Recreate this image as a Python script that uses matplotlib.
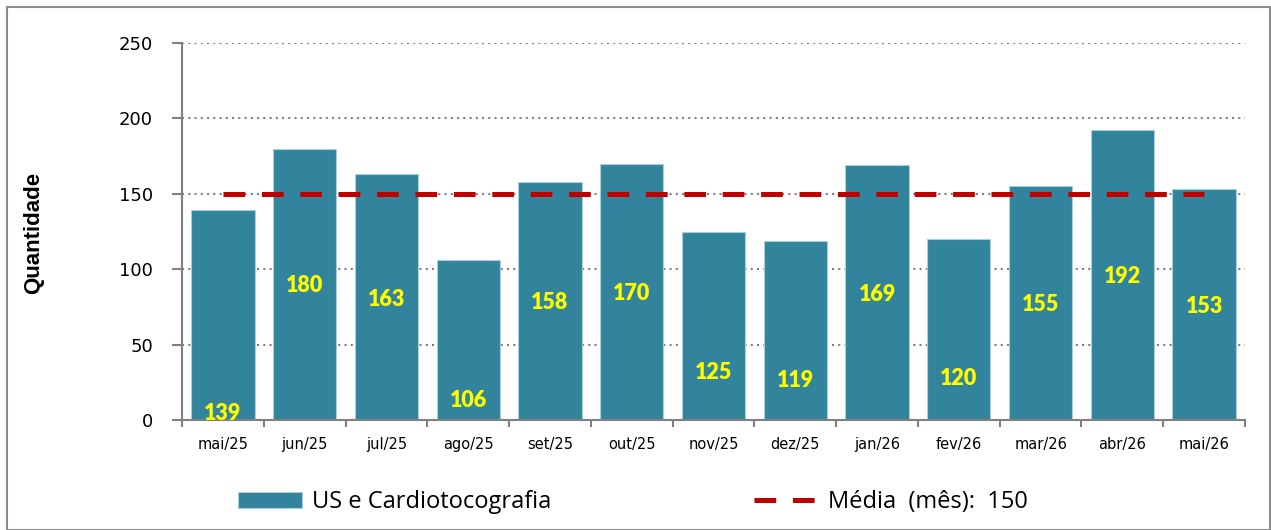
#!/usr/bin/env python3
"""US e Cardiotocografia - monthly counts with average line."""

import matplotlib
matplotlib.use("Agg")
import matplotlib.pyplot as plt
from matplotlib.patches import Rectangle
import numpy as np

MONTHS = ["mai/25", "jun/25", "jul/25", "ago/25", "set/25", "out/25", "nov/25",
          "dez/25", "jan/26", "fev/26", "mar/26", "abr/26", "mai/26"]
COUNTS = [139, 180, 163, 106, 158, 170, 125, 119, 169, 120, 155, 192, 153]
MEAN_VALUE = 150

# where the value labels sit inside each bar (data units, as in the original)
LABEL_Y = [4.4, 88.9, 80, 12.8, 77.8, 84, 31.4, 26, 83.5, 27.6, 76.3, 95, 75.1]

BAR_COLOR = "#31849b"
MEAN_COLOR = "#c00000"
GRID_COLOR = "#808080"


def main():
    fig = plt.figure(figsize=(12.71, 5.30), dpi=100)
    ax = fig.add_axes([182 / 1271, 1 - 420 / 530, (1245 - 182) / 1271, 377 / 530])

    x = np.arange(len(MONTHS))
    bars = ax.bar(x, COUNTS, width=0.774, color=BAR_COLOR, edgecolor="#a9cfdb",
                  linewidth=0.8, label="US e Cardiotocografia", zorder=2)

    mean_line, = ax.plot([x[0], x[-1]], [MEAN_VALUE, MEAN_VALUE], color=MEAN_COLOR,
                         lw=3.6, dashes=(4.34, 3.34), dash_capstyle="butt",
                         label=f"Média  (mês):  {MEAN_VALUE}", zorder=3)

    for xi, v, ly in zip(x, COUNTS, LABEL_Y):
        ax.text(xi, ly, f"{v}", ha="center", va="center", color="#ffff00",
                fontsize=15.5, family="Lato", fontweight="heavy", zorder=4)

    ax.set_xlim(-0.5, len(MONTHS) - 0.5)
    ax.set_ylim(0, 250)
    ax.set_yticks(np.arange(0, 251, 50))
    ax.yaxis.grid(True, linestyle=(0, (1, 2)), color=GRID_COLOR, lw=1.5, zorder=0)
    ax.set_axisbelow(True)

    ax.set_xticks(x)
    ax.set_xticklabels(MONTHS, fontsize=10.5, family="DejaVu Sans")
    ax.set_xticks(np.arange(-0.5, len(MONTHS), 1), minor=True)
    ax.tick_params(axis="x", which="major", length=0, pad=12)
    ax.tick_params(axis="x", which="minor", length=5, width=1.5, color=GRID_COLOR)
    ax.tick_params(axis="y", length=7, width=1.5, color=GRID_COLOR, pad=14,
                   labelsize=13)

    for side in ("top", "right"):
        ax.spines[side].set_visible(False)
    for side in ("left", "bottom"):
        ax.spines[side].set_color(GRID_COLOR)
        ax.spines[side].set_linewidth(1.5)

    fig.text(34 / 1271, 1 - 233 / 530, "Quantidade", rotation=90, ha="center",
             va="center", fontsize=16, fontweight="bold", family="Liberation Sans")

    fig.legend([bars, mean_line],
               ["US e Cardiotocografia", f"Média  (mês):  {MEAN_VALUE}"],
               loc="center left", bbox_to_anchor=(229 / 1271, 1 - 502 / 530),
               ncol=2, frameon=False, prop={"family": "Open Sans", "size": 17},
               handlelength=2.7, handleheight=0.68, handletextpad=0.42,
               columnspacing=8.6, borderaxespad=0)

    # outer frame like the exported chart
    fig.patches.append(Rectangle((7 / 1271, 0), 1263 / 1271, 1 - 7 / 530,
                                 transform=fig.transFigure, fill=False,
                                 edgecolor="#8c8c8c", lw=1.5))

    fig.savefig("out.png", dpi=100)
    plt.close(fig)


if __name__ == "__main__":
    main()
